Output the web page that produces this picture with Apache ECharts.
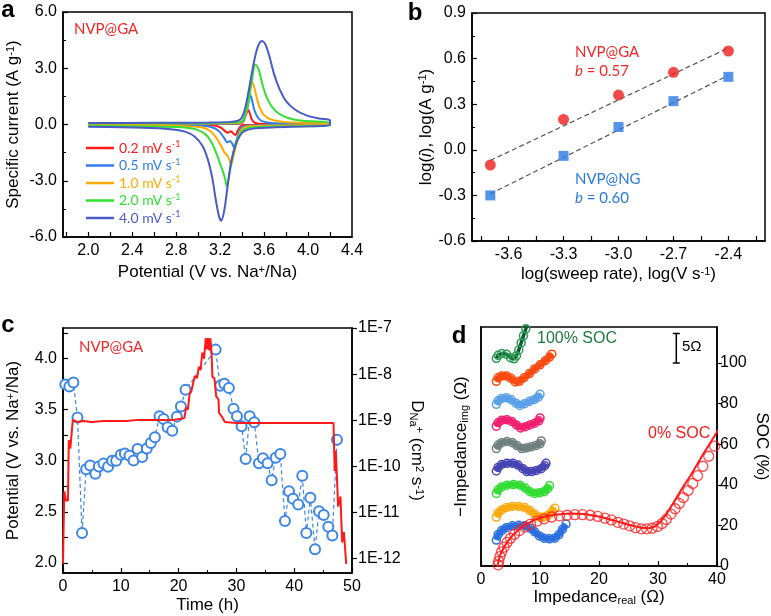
<!DOCTYPE html>
<html>
<head>
<meta charset="utf-8">
<script src="https://cdn.jsdelivr.net/npm/echarts@6.0.0/dist/echarts.min.js"></script>
<style>
  html, body { margin: 0; padding: 0; background: #fff; }
  #chart { width: 771px; height: 616px; }
</style>
</head>
<body>
<div id="chart"></div>
<script>
// ---- panel a: CV curves at several sweep rates, [V, A/g], anodic then cathodic
var cvRates = ['0.2', '0.5', '1.0', '2.0', '4.0'];
var cvColors = ['#ff1a1a', '#2f7fe8', '#ffaa00', '#33e033', '#4b5bc8'];
var cv02 = [[2.0,0.02],[2.8,0.02],[3.3,0.03],[3.38,0.04],[3.41,0.15],[3.43,0.45],[3.455,0.77],[3.47,0.6],[3.49,0.25],[3.52,0.08],[3.6,0.03],[4.2,0.02],
  [4.2,-0.01],[3.6,-0.02],[3.42,-0.03],[3.39,-0.08],[3.36,-0.32],[3.34,-0.56],[3.315,-0.45],[3.295,-0.36],[3.27,-0.44],[3.245,-0.36],[3.21,-0.18],[3.15,-0.05],[2.8,-0.02],[2.0,-0.02]];
var cv05 = [[2.0,0.03],[2.8,0.03],[3.3,0.04],[3.38,0.06],[3.42,0.3],[3.45,0.9],[3.475,1.57],[3.49,1.3],[3.51,0.8],[3.54,0.4],[3.58,0.18],[3.7,0.07],[4.2,0.04],
  [4.2,-0.02],[3.7,-0.03],[3.45,-0.06],[3.4,-0.15],[3.37,-0.4],[3.35,-0.85],[3.33,-1.27],[3.31,-1.02],[3.29,-0.88],[3.265,-0.95],[3.24,-0.75],[3.2,-0.42],[3.15,-0.2],[3.05,-0.07],[2.6,-0.03],[2.0,-0.03]];
var cv10 = [[2.0,0.04],[2.8,0.05],[3.3,0.06],[3.38,0.08],[3.42,0.35],[3.45,1.0],[3.47,1.8],[3.49,2.28],[3.51,2.0],[3.53,1.5],[3.56,0.9],[3.6,0.5],[3.67,0.25],[3.8,0.12],[4.2,0.06],
  [4.2,-0.03],[3.8,-0.05],[3.5,-0.08],[3.42,-0.15],[3.38,-0.4],[3.35,-1.0],[3.32,-1.7],[3.3,-2.15],[3.285,-1.9],[3.265,-1.65],[3.24,-1.5],[3.21,-1.15],[3.17,-0.75],[3.11,-0.35],[3.03,-0.15],[2.7,-0.06],[2.0,-0.05]];
var cv20 = [[2.0,0.06],[2.8,0.07],[3.3,0.1],[3.38,0.12],[3.42,0.38],[3.46,1.3],[3.49,2.4],[3.52,3.2],[3.55,2.95],[3.58,2.25],[3.62,1.5],[3.67,0.95],[3.73,0.6],[3.82,0.35],[3.95,0.2],[4.2,0.1],
  [4.2,-0.05],[3.8,-0.1],[3.5,-0.15],[3.42,-0.25],[3.38,-0.5],[3.34,-1.0],[3.31,-1.8],[3.28,-2.8],[3.26,-3.3],[3.245,-2.9],[3.225,-2.5],[3.2,-2.1],[3.17,-1.6],[3.13,-1.05],[3.08,-0.6],[3.0,-0.3],[2.85,-0.15],[2.5,-0.1],[2.0,-0.08]];
var cv40 = [[2.0,0.08],[2.6,0.09],[3.1,0.11],[3.3,0.14],[3.38,0.25],[3.42,0.7],[3.46,1.8],[3.5,3.1],[3.54,4.1],[3.58,4.46],[3.61,4.3],[3.65,3.6],[3.69,2.7],[3.74,1.9],[3.8,1.25],[3.88,0.8],[3.98,0.5],[4.1,0.32],[4.2,0.22],
  [4.2,-0.03],[4.0,-0.1],[3.7,-0.15],[3.5,-0.22],[3.42,-0.35],[3.38,-0.6],[3.34,-1.1],[3.3,-2.0],[3.27,-3.2],[3.24,-4.5],[3.21,-5.13],[3.19,-4.9],[3.16,-4.0],[3.13,-2.9],[3.09,-1.9],[3.04,-1.15],[2.97,-0.65],[2.88,-0.38],[2.75,-0.25],[2.5,-0.17],[2.0,-0.12]];
var cvData = [cv02, cv05, cv10, cv20, cv40];

// ---- panel b: log(i) vs log(sweep rate)
var logRate = [-3.7, -3.3, -3.0, -2.7, -2.4];
var logI_GA = [-0.10, 0.20, 0.36, 0.51, 0.65];
var logI_NG = [-0.30, -0.04, 0.15, 0.32, 0.48];
var fitGA = [[-3.7, -0.07], [-2.4, 0.67]];
var fitNG = [[-3.7, -0.29], [-2.4, 0.49]];

// ---- panel c: GITT potential [h, V] and diffusion coefficient [h, cm2/s]
var gittPotential = [[0,1.99],[0.12,2.4],[0.23,2.7],[0.5,2.61],[0.86,2.61],[1.0,3.2],[1.27,3.12],[1.45,3.12],[1.7,3.4],[2.5,3.38],[3.5,3.39],[5,3.38],[7,3.39],[9,3.39],[11,3.39],[13,3.4],[15,3.4],[17,3.4],[19,3.4],[20.5,3.41],[21.0,3.42],
  [21.3,3.52],[21.6,3.5],[21.9,3.65],[22.2,3.68],[22.5,3.67],[22.8,3.83],[23.2,3.81],[23.5,3.92],[23.8,3.89],[24.1,4.06],[24.4,4.0],[24.7,4.2],[24.9,4.09],[25.1,4.2],[25.3,4.08],[25.5,4.2],[25.7,4.06],
  [25.85,3.82],[26.2,3.81],[26.5,3.63],[26.9,3.6],[27.0,3.47],[27.5,3.43],[28.0,3.38],[30,3.37],[35,3.37],[40,3.37],[46.8,3.37],[47.0,2.9],[47.2,3.1],[47.6,2.55],[48.0,2.65],[48.3,2.2],[48.6,2.3],[49.0,1.99]];
var gittTime = [0.4,1.1,1.8,2.5,3.3,4.0,4.7,5.6,6.2,7.0,7.8,8.5,9.2,10.0,10.7,11.5,12.2,12.9,13.7,14.5,15.2,15.9,16.7,17.4,18.1,18.9,19.7,20.4,21.2,
  26.4,27.2,27.9,28.7,29.5,30.1,30.9,31.6,32.3,33.1,33.9,34.6,35.4,36.1,36.8,37.6,38.4,39.1,39.8,40.7,41.4,42.1,42.8,43.6,44.3,45.1,45.9,46.6,47.4];
var gittD = [6.0e-9,5.4e-9,6.6e-9,1.15e-9,3.6e-12,8.7e-11,1.05e-10,6.9e-11,1.0e-10,1.15e-10,9.8e-11,1.32e-10,1.32e-10,1.78e-10,1.9e-10,1.7e-10,1.35e-10,2.4e-10,1.6e-10,2.45e-10,3.2e-10,4.3e-10,1.23e-9,1.07e-9,7.1e-10,5.9e-10,1.2e-9,2.0e-9,4.6e-9,
  3.4e-8,5.6e-9,6.2e-9,5.0e-9,1.78e-9,1.23e-9,7.4e-10,1.45e-10,1.23e-9,9.1e-10,1.17e-10,1.5e-10,1.17e-10,5.0e-11,1.55e-10,1.86e-10,6.6e-12,2.9e-11,2.0e-11,1.5e-11,6.3e-11,3.6e-12,2.1e-11,1.6e-12,1.07e-11,8.9e-12,4.9e-12,3.2e-12,3.8e-10];

// ---- panel d: stacked Nyquist plots [Z', -Z''] in ohm (offset upward per SOC step)
var eis0Points = [[2.9,0.2],[3.0,0.8],[3.2,1.6],[3.5,2.4],[3.9,3.2],[4.4,4.0],[5.0,4.7],[5.7,5.4],[6.5,6.0],[7.4,6.6],[8.4,7.1],[9.5,7.6],[10.7,8.0],[12.0,8.3],[13.3,8.5],[14.6,8.6],[15.9,8.7],[17.2,8.7],[18.5,8.6],[19.8,8.4],
  [21.0,8.1],[22.1,7.8],[23.2,7.4],[24.2,7.1],[25.2,6.8],[26.2,6.5],[27.2,6.3],[28.1,6.3],[29.0,6.4],[29.9,6.7],[30.7,7.2],[31.4,7.9],[32.2,8.8],[32.9,9.7],[33.6,10.6],[34.3,11.6],[35.1,12.8],[35.9,14.0],[36.7,15.3],[37.6,16.9],[38.6,18.6],[39.6,20.3]];
var eis0Fit = [[2.8,0],[3.0,1],[3.3,2],[3.8,3],[4.4,4],[5.2,5],[6.2,6],[7.4,6.9],[8.8,7.7],[10.5,8.3],[12.5,8.7],[15,8.9],[17.5,8.8],[20,8.4],[22.5,7.7],[25,7.0],[27,6.5],[28.5,6.4],[29.5,6.7],
  [30.5,7.6],[31.5,8.9],[32.5,10.5],[33.5,12.2],[34.5,13.8],[35.5,15.3],[36.5,17.0],[37.5,18.7],[38.5,20.3],[39.5,21.9],[40.5,23.5]];
var eisBlue = [[2.6,4.4],[2.9,5.3],[3.5,6.0],[4.3,6.5],[5.3,6.8],[6.4,6.9],[7.4,6.8],[8.3,6.4],[9.1,5.8],[9.9,5.1],[10.7,4.7],[11.6,4.6],[12.5,4.7],[13.2,5.3],[13.8,6.2],[14.4,7.1]];
var eisOrange = [[2.6,8.3],[2.9,9.0],[3.5,9.5],[4.3,9.9],[5.3,10.1],[6.4,10.1],[7.4,9.9],[8.3,9.4],[9.1,8.8],[9.9,8.3],[10.7,8.3],[11.5,8.7],[12.1,9.3],[12.5,9.8]];
var eisGreen = [[2.6,12.3],[2.9,12.9],[3.5,13.4],[4.4,13.7],[5.5,13.8],[6.6,13.7],[7.5,13.2],[8.3,12.6],[9.1,12.3],[9.9,12.4],[10.7,12.6],[11.3,13.1],[11.6,13.6]];
var eisIndigo = [[2.6,16.1],[2.9,16.7],[3.5,17.2],[4.4,17.4],[5.4,17.4],[6.3,17.1],[7.1,16.5],[7.8,16.0],[8.6,16.0],[9.4,16.2],[10.2,16.5],[10.8,17.0],[11.0,17.4]];
var eisGray = [[2.6,19.9],[2.9,20.5],[3.5,20.9],[4.4,21.1],[5.3,20.9],[6.1,20.4],[6.9,19.9],[7.7,20.0],[8.5,20.2],[9.3,20.4],[10.0,20.7],[10.2,21.2]];
var eisPink = [[2.6,23.7],[2.9,24.3],[3.5,24.7],[4.4,24.8],[5.2,24.5],[6.0,23.9],[6.7,23.4],[7.5,23.6],[8.3,23.9],[9.1,24.2],[9.8,24.6],[10.0,25.1]];
var eisSky = [[2.6,27.4],[2.9,28.0],[3.5,28.4],[4.3,28.5],[5.1,28.2],[5.9,27.6],[6.6,27.2],[7.4,27.5],[8.2,27.9],[9.0,28.2],[9.7,28.6],[10.0,29.1]];
var eisRedOrange = [[2.6,31.3],[2.9,31.9],[3.5,32.2],[4.3,32.2],[5.1,31.8],[5.8,31.2],[6.5,31.3],[7.3,31.9],[8.2,32.6],[9.1,33.4],[10.0,34.1],[10.9,34.8],[11.6,35.4],[12.0,35.9]];
var eis100 = [[2.6,35.2],[2.9,35.7],[3.5,36.0],[4.3,35.9],[5.0,35.3],[5.6,35.1],[6.0,35.6],[6.4,36.6],[6.8,37.8],[7.2,39.0],[7.6,40.2],[7.9,41.2]];
var eisCurves = [eisBlue, eisOrange, eisGreen, eisIndigo, eisGray, eisPink, eisSky, eisRedOrange];
var eisColors = ['#2a70e0', '#ffaa10', '#33dd33', '#4545b5', '#708080', '#f02070', '#5aa0e8', '#ff4a10'];
var scaleBar = [[33.1, 39.4], [33.1, 34.4]];

var AX = 'Liberation Sans, Arial, sans-serif';
var ANN = 'Lato, sans-serif';
var CLEAR = 'rgba(255,255,255,0)';

function richName(size) {
  return {
    fontFamily: AX, fontSize: size, color: '#000',
    rich: {
      n: { fontFamily: AX, fontSize: size, color: '#000' },
      i: { fontFamily: AX, fontSize: size, color: '#000', fontStyle: 'italic' },
      sup: { fontFamily: AX, fontSize: 11, color: '#000', verticalAlign: 'top' },
      sub: { fontFamily: AX, fontSize: 11, color: '#000', verticalAlign: 'bottom' }
    }
  };
}

function baseAxis(o) {
  var a = {
    type: 'value',
    axisLine: { show: true, onZero: false, lineStyle: { color: '#000', width: 1.5 } },
    axisTick: { show: true, inside: true, length: 5, lineStyle: { color: '#000', width: 1.2 } },
    axisLabel: { color: '#000', fontFamily: AX, fontSize: 16, margin: 6 },
    splitLine: { show: false },
    nameLocation: 'middle',
    nameTextStyle: richName(17)
  };
  for (var k in o) {
    if (a[k] && typeof a[k] === 'object' && !Array.isArray(a[k]) && typeof o[k] === 'object') {
      a[k] = Object.assign({}, a[k], o[k]);
    } else {
      a[k] = o[k];
    }
  }
  return a;
}

function fix1(v) { return v.toFixed(1); }

var series = [];

// panel a
cvData.forEach(function (d, i) {
  series.push({
    name: cvRates[i], type: 'line', xAxisIndex: 0, yAxisIndex: 0,
    data: d, showSymbol: false, smooth: 0.3,
    lineStyle: { color: cvColors[i], width: 2 }, itemStyle: { color: cvColors[i] }, z: 2 + i
  });
});

// panel b
series.push({ type: 'line', xAxisIndex: 1, yAxisIndex: 1, data: fitGA, showSymbol: false,
  lineStyle: { color: '#555', width: 1.2, type: [5, 3] } });
series.push({ type: 'line', xAxisIndex: 1, yAxisIndex: 1, data: fitNG, showSymbol: false,
  lineStyle: { color: '#555', width: 1.2, type: [5, 3] } });
series.push({ type: 'scatter', xAxisIndex: 1, yAxisIndex: 1, symbol: 'circle', symbolSize: 11,
  data: logRate.map(function (x, i) { return [x, logI_GA[i]]; }), itemStyle: { color: '#f01e1e' }, z: 5 });
series.push({ type: 'scatter', xAxisIndex: 1, yAxisIndex: 1, symbol: 'rect', symbolSize: 10,
  data: logRate.map(function (x, i) { return [x, logI_NG[i]]; }), itemStyle: { color: '#2a7ae2' }, z: 5 });

// panel c
series.push({ type: 'line', xAxisIndex: 2, yAxisIndex: 3,
  data: gittTime.map(function (t, i) { return [t, gittD[i]]; }),
  symbol: 'emptyCircle', symbolSize: 10, showAllSymbol: true,
  lineStyle: { color: '#3d85e8', width: 1.2, type: [4, 3] },
  itemStyle: { color: '#3d85e8', borderWidth: 1.1 }, z: 2 });
series.push({ type: 'line', xAxisIndex: 2, yAxisIndex: 2, data: gittPotential, showSymbol: false,
  lineStyle: { color: '#ff1a1a', width: 2 }, z: 3 });

// panel d
eisCurves.forEach(function (d, i) {
  series.push({ type: 'line', xAxisIndex: 3, yAxisIndex: 4, data: d,
    symbol: 'circle', symbolSize: 8, showAllSymbol: true,
    lineStyle: { color: eisColors[i], width: 6 },
    itemStyle: { color: CLEAR, borderColor: eisColors[i], borderWidth: 1.5 }, z: 2 });
});
series.push({ type: 'line', xAxisIndex: 3, yAxisIndex: 4, data: eis100,
  symbol: 'circle', symbolSize: 8, showAllSymbol: true,
  lineStyle: { color: '#0f5a2e', width: 3.5 },
  itemStyle: { color: CLEAR, borderColor: '#2a9a55', borderWidth: 1.5 }, z: 2 });
series.push({ type: 'scatter', xAxisIndex: 3, yAxisIndex: 4, data: eis0Points,
  symbol: 'circle', symbolSize: 10, itemStyle: { color: CLEAR, borderColor: '#ff1a1a', borderWidth: 1.3 }, z: 3 });
series.push({ type: 'line', xAxisIndex: 3, yAxisIndex: 4, data: eis0Fit, showSymbol: false,
  lineStyle: { color: '#ff1a1a', width: 2 }, z: 3 });
series.push({ type: 'line', xAxisIndex: 3, yAxisIndex: 4, data: scaleBar,
  symbol: 'rect', symbolSize: [7, 1.5], lineStyle: { color: '#000', width: 1.5 },
  itemStyle: { color: '#000' }, z: 4 });

function txt(x, y, text, font, color, align, rich) {
  return { type: 'text', x: x, y: y, z: 100,
    style: { text: text, font: font, fill: color, align: align || 'left', verticalAlign: 'middle', rich: rich } };
}
var italicRich = { i: { fontStyle: 'italic', fontFamily: ANN, fontSize: 15 } };

var option = {
  animation: false,
  backgroundColor: '#fff',
  grid: [
    { left: 63, right: 419, top: 12, bottom: 379, show: true, borderColor: '#000', borderWidth: 1.5 },
    { left: 472, right: 6, top: 13, bottom: 375, show: true, borderColor: '#000', borderWidth: 1.5 },
    { left: 63, right: 419, top: 328, bottom: 43, show: true, borderColor: '#000', borderWidth: 1.5 },
    { left: 481, right: 52, top: 327, bottom: 50, show: true, borderColor: '#000', borderWidth: 1.5 }
  ],
  xAxis: [
    baseAxis({ gridIndex: 0, min: 1.77, max: 4.4,
      axisLabel: { customValues: [2.0, 2.4, 2.8, 3.2, 3.6, 4.0, 4.4], formatter: fix1 },
      axisTick: { customValues: [1.8, 2.0, 2.2, 2.4, 2.6, 2.8, 3.0, 3.2, 3.4, 3.6, 3.8, 4.0, 4.2] },
      name: '{n|Potential (V vs. Na}{sup|+}{n|/Na)}', nameGap: 27 }),
    baseAxis({ gridIndex: 1, min: -3.8, max: -2.2,
      axisLabel: { customValues: [-3.6, -3.3, -3.0, -2.7, -2.4], formatter: fix1 },
      axisTick: { customValues: [-3.75, -3.6, -3.45, -3.3, -3.15, -3.0, -2.85, -2.7, -2.55, -2.4, -2.25] },
      name: '{n|log(sweep rate), log(V s}{sup|-1}{n|)}', nameGap: 25 }),
    baseAxis({ gridIndex: 2, min: 0, max: 50, interval: 10,
      minorTick: { show: true, splitNumber: 2, length: 3, lineStyle: { color: '#000' } },
      name: 'Time (h)', nameGap: 24 }),
    baseAxis({ gridIndex: 3, min: 0, max: 40, interval: 10,
      minorTick: { show: true, splitNumber: 2, length: 3, lineStyle: { color: '#000' } },
      name: '{n|Impedance}{sub|real}{n| (Ω)}', nameGap: 23 })
  ],
  yAxis: [
    baseAxis({ gridIndex: 0, min: -6, max: 6, interval: 3,
      axisLabel: { formatter: fix1 },
      minorTick: { show: true, splitNumber: 2, length: 3, lineStyle: { color: '#000' } },
      name: '{n|Specific current (A g}{sup|-1}{n|)}', nameGap: 41 }),
    baseAxis({ gridIndex: 1, min: -0.6, max: 0.9, interval: 0.3,
      axisLabel: { formatter: fix1 },
      minorTick: { show: true, splitNumber: 2, length: 3, lineStyle: { color: '#000' } },
      name: '{n|log(}{i|i}{n|), log(A g}{sup|-1}{n|)}', nameGap: 36 }),
    baseAxis({ gridIndex: 2, min: 1.9, max: 4.3,
      axisLabel: { customValues: [2.0, 2.5, 3.0, 3.5, 4.0], formatter: fix1 },
      axisTick: { customValues: [2.0, 2.25, 2.5, 2.75, 3.0, 3.25, 3.5, 3.75, 4.0, 4.25] },
      name: '{n|Potential (V vs. Na}{sup|+}{n|/Na)}', nameGap: 41 }),
    baseAxis({ gridIndex: 2, type: 'log', logBase: 10, min: 4.9e-13, max: 1e-7, position: 'right',
      axisTick: { inside: false },
      axisLabel: { showMinLabel: false, formatter: function (v) { return '1E' + Math.round(Math.log10(v)); } },
      name: '{n|D}{sub|Na}{sup|+}{n| (cm}{sup|2}{n| s}{sup|-1}{n|)}', nameGap: 56, nameRotate: -90 }),
    baseAxis({ gridIndex: 3, min: 0, max: 40.5, axisTick: { show: false }, axisLabel: { show: false },
      name: '{n|−Impedance}{sub|img}{n| (Ω)}', nameGap: 11 }),
    baseAxis({ gridIndex: 3, min: 0, max: 117.7, interval: 20, position: 'right',
      axisTick: { inside: false },
      axisLabel: { showMaxLabel: false, margin: 3 },
      name: 'SOC (%)', nameGap: 36, nameRotate: -90 })
  ],
  legend: {
    data: cvRates.map(function (r, i) { return { name: r, textStyle: { color: cvColors[i] } }; }),
    orient: 'vertical', left: 81, top: 135, icon: 'rect', itemWidth: 28, itemHeight: 2.5, itemGap: 2.5,
    selectedMode: false,
    formatter: function (name) { return '{n|' + name + ' mV s}{sup|-1}'; },
    textStyle: {
      fontFamily: ANN, fontSize: 14, padding: [0, 0, 0, 0],
      rich: {
        n: { fontFamily: ANN, fontSize: 14, lineHeight: 16 },
        sup: { fontFamily: ANN, fontSize: 9, lineHeight: 16, verticalAlign: 'top' }
      }
    }
  },
  graphic: [
    txt(8, 10, 'a', 'bold 24px ' + AX, '#000', 'center'),
    txt(415, 13, 'b', 'bold 24px ' + AX, '#000', 'center'),
    txt(8, 325, 'c', 'bold 24px ' + AX, '#000', 'center'),
    txt(459, 336, 'd', 'bold 24px ' + AX, '#000', 'center'),
    txt(74, 29, 'NVP@GA', '15px ' + ANN, '#f02828'),
    txt(575, 52, 'NVP@GA', '15px ' + ANN, '#f02828'),
    txt(575, 71, '{i|b} = 0.57', '15px ' + ANN, '#f02828', 'left', italicRich),
    txt(575, 179, 'NVP@NG', '15px ' + ANN, '#2a7ae2'),
    txt(575, 198, '{i|b} = 0.60', '15px ' + ANN, '#2a7ae2', 'left', italicRich),
    txt(79, 347, 'NVP@GA', '15px ' + ANN, '#f02828'),
    txt(537, 339, '100% SOC', '16px ' + AX, '#1f7a3f'),
    txt(648, 434, '0% SOC', '16px ' + AX, '#ff1a1a'),
    txt(682, 347, '5Ω', '15px ' + AX, '#000')
  ],
  series: series
};

var chart = echarts.init(document.getElementById('chart'), null, { renderer: 'canvas' });
chart.setOption(option);
</script>
</body>
</html>
